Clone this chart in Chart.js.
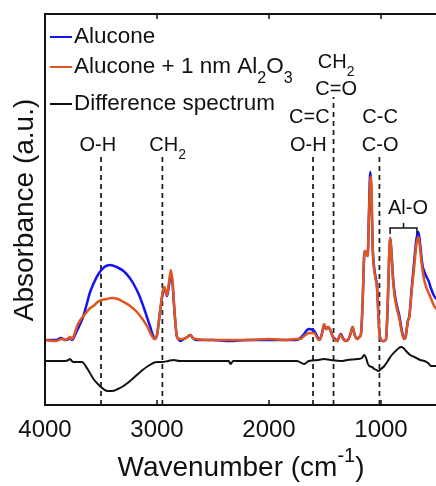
<!DOCTYPE html>
<html>
<head>
<meta charset="utf-8">
<script src="https://cdn.jsdelivr.net/npm/chart.js@4.4.1/dist/chart.umd.min.js"></script>
<style>
  html, body { margin: 0; padding: 0; background: #fff; }
</style>
</head>
<body>
<canvas id="ftir" width="436" height="486"></canvas>
<script>
// spectra (absorbance in arbitrary units)
const aluconeWn = [4000, 3900, 3858, 3820, 3790, 3776, 3760, 3749, 3716, 3690, 3657, 3627, 3597, 3560, 3523, 3470, 3418, 3360, 3299, 3250, 3209, 3160, 3120, 3090, 3060, 3040, 3021, 3000, 2970, 2945, 2934, 2920, 2910, 2895, 2875, 2860, 2845, 2825, 2809, 2791, 2760, 2730, 2701, 2680, 2650, 2500, 2350, 2200, 2000, 1850, 1760, 1720, 1687, 1660, 1642, 1597, 1575, 1552, 1530, 1508, 1490, 1472, 1450, 1433, 1410, 1388, 1375, 1358, 1340, 1314, 1290, 1270, 1254, 1235, 1209, 1195, 1179, 1165, 1150, 1143, 1130, 1119, 1108, 1096, 1085, 1075, 1060, 1048, 1036, 1025, 1015, 1004, 994, 970, 955, 940, 928, 917, 905, 893, 880, 860, 836, 815, 800, 791, 780, 770, 760, 747, 725, 702, 685, 666, 650, 630, 612, 597, 575, 552, 530, 507];
const aluconeAbs = [65, 65, 67, 65, 66, 68, 65, 66, 74, 80, 89, 101, 113, 123, 131, 138, 140, 138, 134, 128, 121, 110, 98, 88, 78, 71, 66, 70, 96, 114, 116, 112, 109, 118, 132, 120, 95, 70, 66, 64, 66, 68, 70, 67, 65, 65, 64, 65, 65, 65, 65, 67, 71, 75, 76, 74, 70, 65, 70, 80, 76, 78, 74, 69, 66, 64, 68, 71, 67, 64, 66, 72, 78, 70, 66, 68, 71, 100, 150, 154, 152, 149, 190, 233, 205, 160, 136, 128, 119, 95, 73, 66, 64, 64, 66, 100, 145, 167, 150, 128, 113, 100, 89, 75, 68, 66, 68, 76, 84, 89, 118, 146, 165, 173, 160, 140, 133, 129, 124, 116, 110, 106];

const coatedWn = [4000, 3900, 3850, 3820, 3790, 3776, 3760, 3740, 3716, 3690, 3657, 3627, 3597, 3567, 3530, 3493, 3450, 3403, 3350, 3299, 3240, 3179, 3130, 3090, 3060, 3040, 3021, 3000, 2970, 2945, 2934, 2920, 2910, 2895, 2875, 2860, 2845, 2825, 2809, 2791, 2760, 2730, 2701, 2680, 2650, 2500, 2350, 2200, 2000, 1850, 1760, 1720, 1687, 1660, 1642, 1597, 1575, 1552, 1530, 1508, 1490, 1472, 1450, 1433, 1410, 1388, 1375, 1358, 1340, 1314, 1290, 1270, 1254, 1235, 1209, 1195, 1179, 1165, 1150, 1143, 1130, 1119, 1108, 1096, 1090, 1080, 1075, 1060, 1048, 1036, 1025, 1015, 1004, 994, 970, 955, 940, 928, 917, 905, 893, 880, 860, 836, 815, 800, 791, 780, 770, 760, 747, 725, 702, 685, 666, 650, 630, 612, 597, 575, 552, 530, 507];
const coatedAbs = [65, 64, 66, 65, 67, 68, 66, 70, 78, 84, 89, 93, 97, 99, 103, 105, 106, 107, 106, 103, 99, 93, 86, 79, 72, 68, 66, 70, 96, 116, 118, 113, 110, 121, 135, 122, 96, 70, 66, 66, 66, 68, 70, 67, 66, 65, 65, 65, 66, 65, 66, 66, 69, 71, 72, 72, 68, 65, 70, 81, 76, 78, 74, 69, 65, 64, 68, 70, 66, 64, 66, 72, 78, 70, 66, 68, 71, 100, 150, 154, 152, 149, 188, 225, 228, 195, 160, 134, 126, 117, 93, 72, 66, 64, 64, 66, 102, 148, 167, 148, 125, 110, 97, 86, 73, 67, 66, 68, 76, 84, 88, 115, 140, 160, 168, 155, 135, 124, 118, 112, 106, 100, 96];

const diffWn = [4000, 3900, 3820, 3790, 3776, 3760, 3746, 3700, 3671, 3620, 3567, 3520, 3478, 3440, 3403, 3350, 3299, 3220, 3149, 3080, 3000, 2960, 2900, 2851, 2800, 2700, 2500, 2360, 2343, 2320, 2100, 1900, 1750, 1687, 1660, 1642, 1560, 1508, 1450, 1358, 1300, 1209, 1170, 1150, 1130, 1120, 1105, 1080, 1060, 1040, 1024, 1000, 970, 940, 911, 870, 840, 821, 800, 776, 740, 702, 650, 612, 580, 552, 507];
const diffAbs = [44, 44, 44, 45, 46, 44, 43, 43, 43, 36, 26, 20, 16, 14, 14, 16, 19, 26, 33, 39, 43, 43, 44, 45, 44, 44, 44, 44, 41, 44, 44, 44, 44, 41, 43, 44, 45, 46, 45, 44, 45, 46, 47, 50, 46, 42, 39, 38, 36, 35, 34, 36, 39, 44, 49, 54, 57, 58, 57, 54, 50, 48, 45, 44, 42, 39, 39];

// dashed band markers and where each one starts (top)
const markerWn = [3500, 2952, 1607, 1424, 1014];
const markerTop = [250, 248, 252, 308, 252];

const tickValues = [4000, 3000, 2000, 1000];

const FONT = '"Liberation Sans", Arial, Helvetica, sans-serif';
const BLUE = '#1414f0';
const ORANGE = '#e0561e';

function pts(xs, ys) {
  return xs.map((x, i) => ({ x: x, y: ys[i] }));
}

// text with sub/superscript pieces
function drawParts(ctx, parts, x, y, size, align) {
  const small = Math.round(size * 0.72);
  let total = 0;
  parts.forEach(p => {
    ctx.font = (p.sub || p.sup ? small : size) + 'px ' + FONT;
    p.w = ctx.measureText(p.t).width;
    total += p.w;
  });
  let cx = align === 'center' ? x - total / 2 : x;
  ctx.textAlign = 'left';
  ctx.textBaseline = 'middle';
  parts.forEach(p => {
    ctx.font = (p.sub || p.sup ? small : size) + 'px ' + FONT;
    let dy = p.sub ? size * 0.5 : (p.sup ? -size * 0.42 : 0);
    ctx.fillText(p.t, cx, y + dy);
    cx += p.w;
  });
}

const decor = {
  id: 'decor',
  afterDatasetsDraw(chart) {
    const ctx = chart.ctx;
    const a = chart.chartArea;
    const xs = chart.scales.x, ys = chart.scales.y;
    ctx.save();
    ctx.strokeStyle = '#111';
    ctx.lineWidth = 2;
    // left and top frame
    ctx.beginPath();
    ctx.moveTo(a.left, a.bottom);
    ctx.lineTo(a.left, a.top);
    ctx.lineTo(a.right + 2, a.top);
    ctx.stroke();
    // inward ticks
    ctx.lineWidth = 1.5;
    tickValues.forEach(v => {
      const px = xs.getPixelForValue(v);
      if (px <= a.left + 2) return;
      ctx.beginPath();
      ctx.moveTo(px, a.top);
      ctx.lineTo(px, a.top + 5);
      ctx.moveTo(px, a.bottom);
      ctx.lineTo(px, a.bottom - 5);
      ctx.stroke();
    });

    // band labels
    ctx.fillStyle = '#111';
    const lab = (w, v, parts) => drawParts(ctx, parts, xs.getPixelForValue(w), ys.getPixelForValue(v), 20, 'center');
    lab(3528, 260, [{ t: 'O-H' }]);
    lab(2905, 260, [{ t: 'CH' }, { t: '2', sub: true }]);
    lab(1640, 288, [{ t: 'C=C' }]);
    lab(1649, 260, [{ t: 'O-H' }]);
    lab(1400, 343, [{ t: 'CH' }, { t: '2', sub: true }]);
    lab(1400, 316, [{ t: 'C=O' }]);
    lab(1008, 288, [{ t: 'C-C' }]);
    lab(1008, 260, [{ t: 'C-O' }]);
    lab(759, 197, [{ t: 'Al-O' }]);

    // Al-O bracket
    const bl = xs.getPixelForValue(919), br = xs.getPixelForValue(679), bm = xs.getPixelForValue(799);
    const by = ys.getPixelForValue(177);
    ctx.lineWidth = 1.5;
    ctx.beginPath();
    ctx.moveTo(bl, by + 6);
    ctx.lineTo(bl, by);
    ctx.lineTo(br, by);
    ctx.lineTo(br, by + 6);
    ctx.moveTo(bm, by);
    ctx.lineTo(bm, by - 5);
    ctx.stroke();

    // legend
    const rows = [
      { c: BLUE, y: 37, parts: [{ t: 'Alucone' }] },
      { c: ORANGE, y: 67, parts: [{ t: 'Alucone + 1 nm Al' }, { t: '2', sub: true }, { t: 'O' }, { t: '3', sub: true }] },
      { c: '#111', y: 104, parts: [{ t: 'Difference spectrum' }] }
    ];
    rows.forEach(r => {
      ctx.strokeStyle = r.c;
      ctx.lineWidth = 2;
      ctx.beginPath();
      ctx.moveTo(a.left + 5, r.y);
      ctx.lineTo(a.left + 27, r.y);
      ctx.stroke();
      ctx.fillStyle = '#111';
      drawParts(ctx, r.parts, a.left + 29, r.y, 22.5, 'left');
    });

    // axis titles
    ctx.fillStyle = '#111';
    ctx.save();
    ctx.translate(33, 210);
    ctx.rotate(-Math.PI / 2);
    ctx.font = '28px ' + FONT;
    ctx.textAlign = 'center';
    ctx.textBaseline = 'alphabetic';
    ctx.fillText('Absorbance (a.u.)', 0, 0);
    ctx.restore();

    drawParts(ctx, [{ t: 'Wavenumber (cm' }, { t: '-1', sup: true }, { t: ')' }], 241, 468, 28, 'center');
    ctx.restore();
  }
};

const markerSets = markerWn.map((w, i) => ({
  data: [{ x: w, y: 0 }, { x: w, y: markerTop[i] }],
  borderColor: '#222',
  borderWidth: 1.8,
  borderDash: [5, 4],
  pointRadius: 0,
  order: 5
}));

new Chart(document.getElementById('ftir'), {
  type: 'line',
  data: {
    datasets: [
      { label: 'Alucone', data: pts(aluconeWn, aluconeAbs), borderColor: BLUE, borderWidth: 2.5, pointRadius: 0, cubicInterpolationMode: 'monotone', order: 3 },
      { label: 'Alucone + 1 nm Al2O3', data: pts(coatedWn, coatedAbs), borderColor: ORANGE, borderWidth: 2.5, pointRadius: 0, cubicInterpolationMode: 'monotone', order: 2 },
      { label: 'Difference spectrum', data: pts(diffWn, diffAbs), borderColor: '#111', borderWidth: 2, pointRadius: 0, cubicInterpolationMode: 'monotone', order: 1 }
    ].concat(markerSets)
  },
  options: {
    responsive: false,
    animation: false,
    layout: { padding: { left: 45, top: 14, right: 0, bottom: 0 } },
    plugins: { legend: { display: false }, tooltip: { enabled: false } },
    scales: {
      x: {
        type: 'linear',
        reverse: true,
        min: 509,
        max: 4000,
        grid: { display: false },
        border: { display: true, color: '#111', width: 2 },
        afterBuildTicks: s => { s.ticks = tickValues.map(v => ({ value: v })); },
        afterFit: s => { s.height = 81; },
        ticks: { color: '#111', padding: 3, maxRotation: 0, font: { family: FONT, size: 24 }, callback: v => String(v) }
      },
      y: {
        display: false,
        min: 0,
        max: 391
      }
    }
  },
  plugins: [decor]
});
</script>
</body>
</html>
